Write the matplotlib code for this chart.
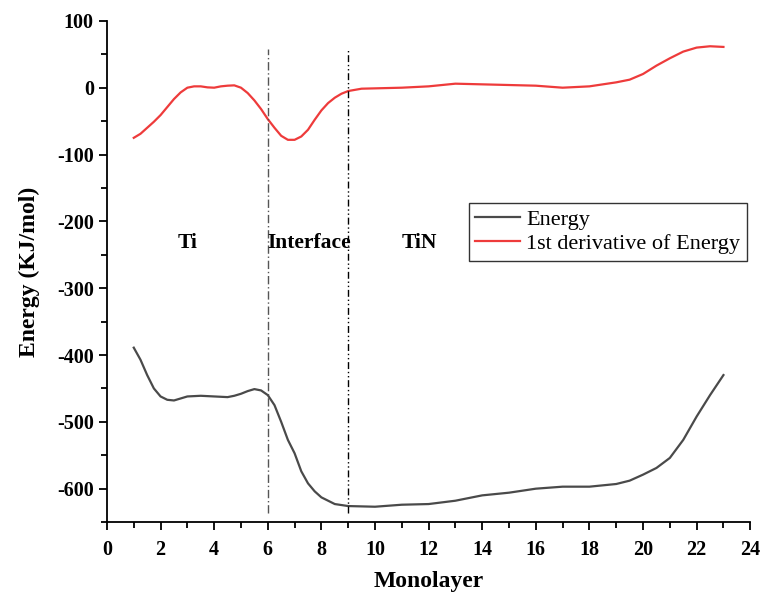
import matplotlib.pyplot as plt
from matplotlib.ticker import MultipleLocator

plt.rcParams["font.family"] = ["Liberation Serif", "DejaVu Serif"]
plt.rcParams["axes.unicode_minus"] = False

# values (finer steps where the curves bend)
mono_e = [1, 1.25, 1.5, 1.75, 2, 2.25, 2.5, 2.75, 3, 3.5, 4, 4.5, 4.75, 5,
          5.25, 5.5, 5.75, 6, 6.25, 6.5, 6.75, 7, 7.25, 7.5, 7.75, 8, 8.5, 9,
          10, 11, 12, 13, 14, 15, 16, 17, 18, 19, 19.5, 20, 20.5, 21, 21.5,
          22, 22.5, 23]
energy = [-389, -407, -430, -450, -462, -467, -468, -465, -462, -461, -462,
          -463, -461, -458, -454, -451, -453, -460, -475, -500, -527, -547,
          -574, -592, -604, -613, -623, -626,
          -627, -624, -623, -618, -610, -606, -600, -597, -597, -593, -588,
          -579, -569, -554, -527, -492, -460, -430]

mono_d = [1, 1.25, 1.5, 1.75, 2, 2.25, 2.5, 2.75, 3, 3.25, 3.5, 3.75, 4,
          4.25, 4.5, 4.75, 5, 5.25, 5.5, 5.75, 6, 6.25, 6.5, 6.75, 7, 7.25,
          7.5, 7.75, 8, 8.25, 8.5, 8.75, 9, 9.5,
          10, 11, 12, 13, 14, 15, 16, 17, 18, 19, 19.5, 20, 20.5, 21, 21.5,
          22, 22.5, 23]
derivative = [-75, -69, -60, -51, -41, -29, -17, -7, 0, 2, 2, 0.5, 0, 2, 3,
              3.5, 0, -8, -19, -32, -47, -60, -72, -78, -78, -73, -63, -48,
              -34, -23, -15, -9, -5, -1.5,
              -1, 0, 2, 6, 5, 4, 3, 0, 2, 8, 12, 20.5, 33, 44, 54, 60, 62, 61]

region_labels = ["Ti", "Interface", "TiN"]
region_x = [3, 7.55, 11.65]
boundaries = [6, 9]

fig = plt.figure(figsize=(7.64, 5.96), dpi=100)
ax = fig.add_axes([0.140, 0.124, 0.842, 0.841])

ax.plot(mono_e, energy, color="#4a4a4a", lw=1.6, label="Energy")
ax.plot(mono_d, derivative, color="#ee3b3b", lw=1.6,
        label="1st derivative of Energy")

ax.vlines(boundaries[0], -636, 58, colors="#555555", lw=1.0,
          linestyles=(0, (6, 2, 1, 2)))
ax.vlines(boundaries[1], -636, 58, colors="black", lw=1.0,
          linestyles=(0, (5, 2, 1, 2, 1, 2)))

for lab, xv in zip(region_labels, region_x):
    ax.text(xv, -232, lab, ha="center", va="center", fontsize=15.5,
            fontweight="bold")

ax.set_xlim(0, 24)
ax.set_ylim(-650, 100)
ax.xaxis.set_major_locator(MultipleLocator(2))
ax.xaxis.set_minor_locator(MultipleLocator(1))
ax.yaxis.set_major_locator(MultipleLocator(100))
ax.yaxis.set_minor_locator(MultipleLocator(50))

for s in ["top", "right"]:
    ax.spines[s].set_visible(False)
for s in ["left", "bottom"]:
    ax.spines[s].set_linewidth(1.3)

ax.tick_params(which="major", direction="out", length=6, width=1.3,
               labelsize=14.5)
ax.tick_params(which="minor", direction="out", length=4.5, width=1.3)
ax.tick_params(axis="x", which="major", pad=7)
for t in ax.get_xticklabels() + ax.get_yticklabels():
    t.set_fontweight("bold")

ax.set_xlabel("Monolayer", fontsize=17, fontweight="bold", labelpad=8)
ax.set_ylabel("Energy (KJ/mol)", fontsize=17, fontweight="bold", labelpad=12)

leg = ax.legend(loc="upper right", bbox_to_anchor=(0.995, 0.637),
                fontsize=16, frameon=True, fancybox=False,
                handlelength=2.0, borderpad=0.3, labelspacing=0.15,
                handletextpad=0.3, borderaxespad=0)
leg.get_frame().set_edgecolor("black")
leg.get_frame().set_linewidth(1.0)

fig.savefig("out.png", dpi=100)
